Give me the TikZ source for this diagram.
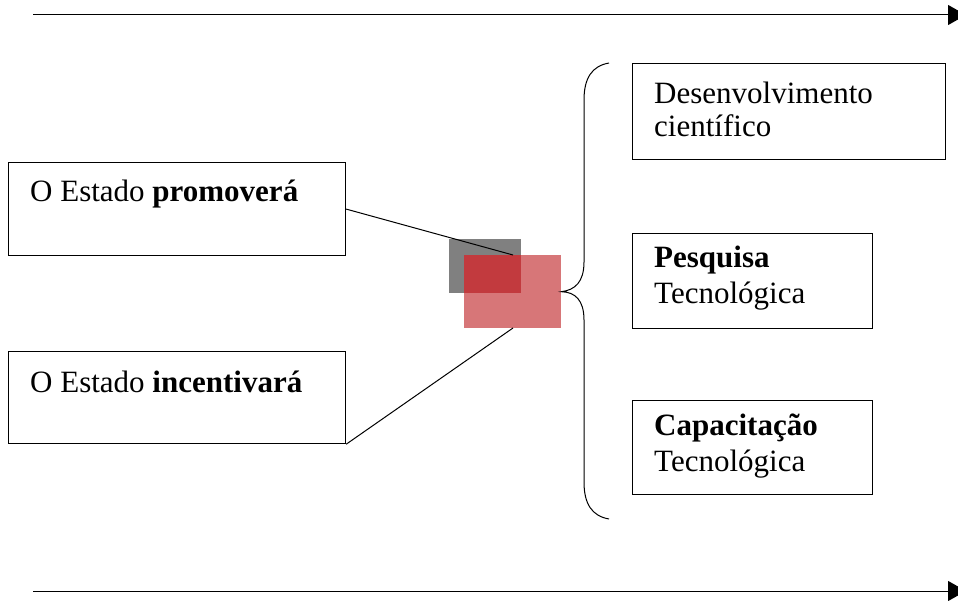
\documentclass[tikz,border=0pt]{standalone}
\usepackage{fontspec}
\setmainfont{Liberation Serif}
\usetikzlibrary{arrows.meta}
\definecolor{boxgray}{RGB}{128,128,128}
\definecolor{pinkred}{RGB}{215,118,120}
\definecolor{deepred}{RGB}{194,58,62}
\begin{document}
\begin{tikzpicture}[x=1pt,y=-1pt,
  box/.style={draw=black,line width=1.2pt,inner sep=0pt,anchor=north west},
  sq/.style={inner sep=0pt,anchor=north west},
  txt/.style={anchor=base west,inner sep=0pt,font=\fontsize{31}{34}\selectfont},
  conn/.style={line width=1pt},
  arr/.style={line width=1pt,-{Triangle[length=18pt,width=20pt]}}]
\useasboundingbox (0,0) rectangle (958,601);
% boxes
\node[box,minimum width=337pt,minimum height=93pt] (b1) at (8,162) {};
\node[box,minimum width=337pt,minimum height=92pt] (b2) at (8,351) {};
\node[box,minimum width=313pt,minimum height=96pt] (rA) at (632,63) {};
\node[box,minimum width=240pt,minimum height=95pt] (rB) at (632,233) {};
\node[box,minimum width=240pt,minimum height=94pt] (rC) at (632,400) {};
% texts
\node[txt] (t1) at (30,202) {O Estado \textbf{promoverá}};
\node[txt] (t2) at (30,392) {O Estado \textbf{incentivará}};
\node[txt] (tA1) at (654,104) {Desenvolvimento};
\node[txt] (tA2) at (654,137) {científico};
\node[txt] (tB1) at (654,268) {\textbf{Pesquisa}};
\node[txt] (tB2) at (654,304) {Tecnológica};
\node[txt] (tC1) at (654,435) {\textbf{Capacitação}};
\node[txt] (tC2) at (654,471) {Tecnológica};
% squares
\node[sq,fill=boxgray,minimum width=72pt,minimum height=54pt] (gsq) at (449,239) {};
\node[sq,fill=pinkred,minimum width=97pt,minimum height=73pt] (rsq) at (464,255) {};
\fill[deepred] (rsq.north west) rectangle (gsq.south east);
% connectors
\coordinate (j1) at (513,255);
\coordinate (j2) at (513,328);
\draw[conn] (b1.east) -- (j1);
\draw[conn] (b2.south east) -- (j2);
% brace
\draw[conn] (609,63) .. controls (592,66) and (584,78) .. (584,100) -- (584,262)
  .. controls (584,282) and (575,290) .. (rsq.east)
  .. controls (575,292) and (584,300) .. (584,320) -- (584,482)
  .. controls (584,504) and (592,516) .. (609,519);
% arrows
\coordinate (a1s) at (33,15);
\coordinate (a1e) at (966,15);
\coordinate (a2s) at (33,591);
\coordinate (a2e) at (966,591);
\draw[arr] (a1s) -- (a1e);
\draw[arr] (a2s) -- (a2e);
\end{tikzpicture}
\end{document}
